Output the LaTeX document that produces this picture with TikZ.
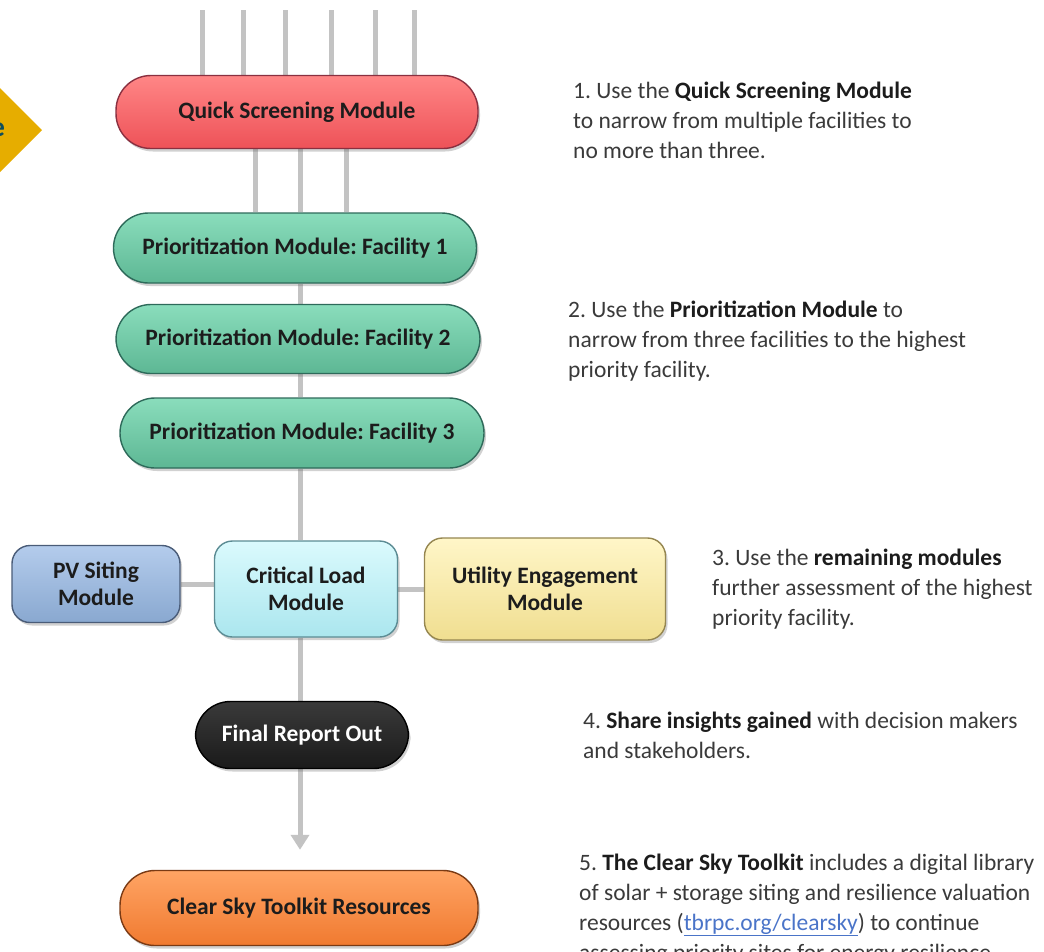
\documentclass[tikz,border=0pt]{standalone}
\usepackage{fontspec}
\setmainfont{Carlito}
\usetikzlibrary{shadows,arrows.meta,backgrounds}
\frenchspacing
\definecolor{conn}{HTML}{C3C3C3}
\definecolor{txtc}{HTML}{3A3A3A}
\definecolor{boldc}{HTML}{1C1C1C}
\definecolor{linkc}{HTML}{4A74C8}
\definecolor{redb}{HTML}{FF6262}\definecolor{redt}{HTML}{FF8686}\definecolor{redd}{HTML}{EE5258}\definecolor{redl}{HTML}{8A3040}
\definecolor{grnb}{HTML}{6DCBA6}\definecolor{grnt}{HTML}{8ADDBC}\definecolor{grnd}{HTML}{5DB794}\definecolor{grnl}{HTML}{2E6A5A}
\definecolor{blub}{HTML}{9CBAE0}\definecolor{blut}{HTML}{B4CCEC}\definecolor{blud}{HTML}{89A8D0}\definecolor{blul}{HTML}{4A5C78}
\definecolor{cyab}{HTML}{C0F5FA}\definecolor{cyat}{HTML}{DAFAFD}\definecolor{cyad}{HTML}{ABE6EE}\definecolor{cyal}{HTML}{5C8C94}
\definecolor{yelb}{HTML}{FCEEA2}\definecolor{yelt}{HTML}{FFF6C8}\definecolor{yeld}{HTML}{F0DE90}\definecolor{yell}{HTML}{958650}
\definecolor{blkb}{HTML}{242424}\definecolor{blkt}{HTML}{3A3A3A}\definecolor{blkd}{HTML}{1A1A1A}\definecolor{blkl}{HTML}{000000}
\definecolor{orab}{HTML}{FF8A3A}\definecolor{orat}{HTML}{FFA464}\definecolor{orad}{HTML}{F07A30}\definecolor{oral}{HTML}{7A3A14}
\definecolor{diam}{HTML}{E6AD00}
\definecolor{diamtxt}{HTML}{0E4E5C}
\tikzset{
  conline/.style={draw=conn,line width=5pt},
  box/.style={rounded corners=#1,inner sep=0pt,align=center,
    font=\fontsize{23.5}{27}\selectfont\bfseries,text=boldc,line width=1.4pt,
    drop shadow={shadow xshift=2pt,shadow yshift=-3pt,opacity=0.3,fill=black!60}},
  pill/.style={box=35pt},
  rbox/.style={box=18pt},
  sc/.style n args={4}{top color=#1,middle color=#2,bottom color=#3,draw=#4},
  note/.style={anchor=north west,inner sep=0pt,align=left,text=txtc,
    font=\fontsize{23.5}{30}\selectfont},
}
\newcommand{\bt}[1]{\textbf{\color{boldc}#1}}
\begin{document}
\begin{tikzpicture}[x=1pt,y=-1pt]
\useasboundingbox (0,0) rectangle (1044,951);
\clip (0,0) rectangle (1044,951);
% partial diamond at left edge
\fill[diam] (-42,130) -- (0,88) -- (42,130) -- (0,172) -- cycle;
\node[text=diamtxt,font=\fontsize{28}{30}\selectfont\bfseries,inner sep=0pt] (dtxt) at (-2,130) {e};
% nodes
\node[pill,sc={redt}{redb}{redd}{redl},minimum width=362pt,minimum height=73pt] (qs) at (297,112) {Quick Screening Module};
\node[pill,sc={grnt}{grnb}{grnd}{grnl},minimum width=363pt,minimum height=70pt] (f1) at (295,248) {Prioritization Module: Facility 1};
\node[pill,sc={grnt}{grnb}{grnd}{grnl},minimum width=364pt,minimum height=69pt] (f2) at (298,339) {Prioritization Module: Facility 2};
\node[pill,sc={grnt}{grnb}{grnd}{grnl},minimum width=364pt,minimum height=70pt] (f3) at (302,433) {Prioritization Module: Facility 3};
\node[rbox,sc={blut}{blub}{blud}{blul},minimum width=168pt,minimum height=77pt] (pv) at (96,584) {PV Siting\\Module};
\node[rbox,sc={cyat}{cyab}{cyad}{cyal},minimum width=183pt,minimum height=96pt] (cl) at (306,589) {Critical Load\\Module};
\node[rbox,sc={yelt}{yelb}{yeld}{yell},minimum width=241pt,minimum height=102pt] (ue) at (545,589) {Utility Engagement\\Module};
\node[pill,sc={blkt}{blkb}{blkd}{blkl},text=white,minimum width=213pt,minimum height=67pt] (fr) at (302,735) {Final Report Out};
\node[pill,sc={orat}{orab}{orad}{oral},minimum width=358pt,minimum height=75pt] (cs) at (299,908) {Clear Sky Toolkit Resources};
% helper coordinates
\coordinate (spine) at (300,0);
\foreach \i/\x in {1/202,2/243,3/285,4/331,5/375,6/414}{\coordinate (in\i) at (\x,10);}
\coordinate (m1) at (255,0);\coordinate (m2) at (300,0);\coordinate (m3) at (346,0);
\begin{scope}[on background layer]
  \foreach \i in {1,...,6}{\draw[conline] (in\i) -- (qs.north -| in\i);}
  \foreach \i in {1,2,3}{\draw[conline] (qs.south -| m\i) -- (f1.north -| m\i);}
  \draw[conline] (f1.south -| spine) -- (f2.north -| spine);
  \draw[conline] (f2.south -| spine) -- (f3.north -| spine);
  \draw[conline] (f3.south -| spine) -- (cl.north -| spine);
  \draw[conline] (pv.east) -- (cl.west |- pv.east);
  \draw[conline] (cl.east) -- (ue.west |- cl.east);
  \draw[conline] (cl.south -| spine) -- (fr.north -| spine);
  \draw[conline,shorten >=20pt,-{Triangle[width=18pt,length=15pt]}] (fr.south -| spine) -- (cs.north -| spine);
\end{scope}
% notes
\node[note] (n1) at (573,81.5) {1. Use the \bt{Quick Screening Module}\\to narrow from multiple facilities to\\no more than three.};
\node[note] (n2) at (568,300.5) {2. Use the \bt{Prioritization Module} to\\narrow from three facilities to the highest\\priority facility.};
\node[note] (n3) at (712,548.5) {3. Use the \bt{remaining modules}\\further assessment of the highest\\priority facility.};
\node[note] (n4) at (583,711.5) {4. \bt{Share insights gained} with decision makers\\and stakeholders.};
\node[note] (n5) at (579,853.5) {5. \bt{The Clear Sky Toolkit} includes a digital library\\of solar + storage siting and resilience valuation\\resources ({\color{linkc}\underline{tbrpc.org/clearsky}}) to continue\\assessing priority sites for energy resilience.};
\end{tikzpicture}
\end{document}
